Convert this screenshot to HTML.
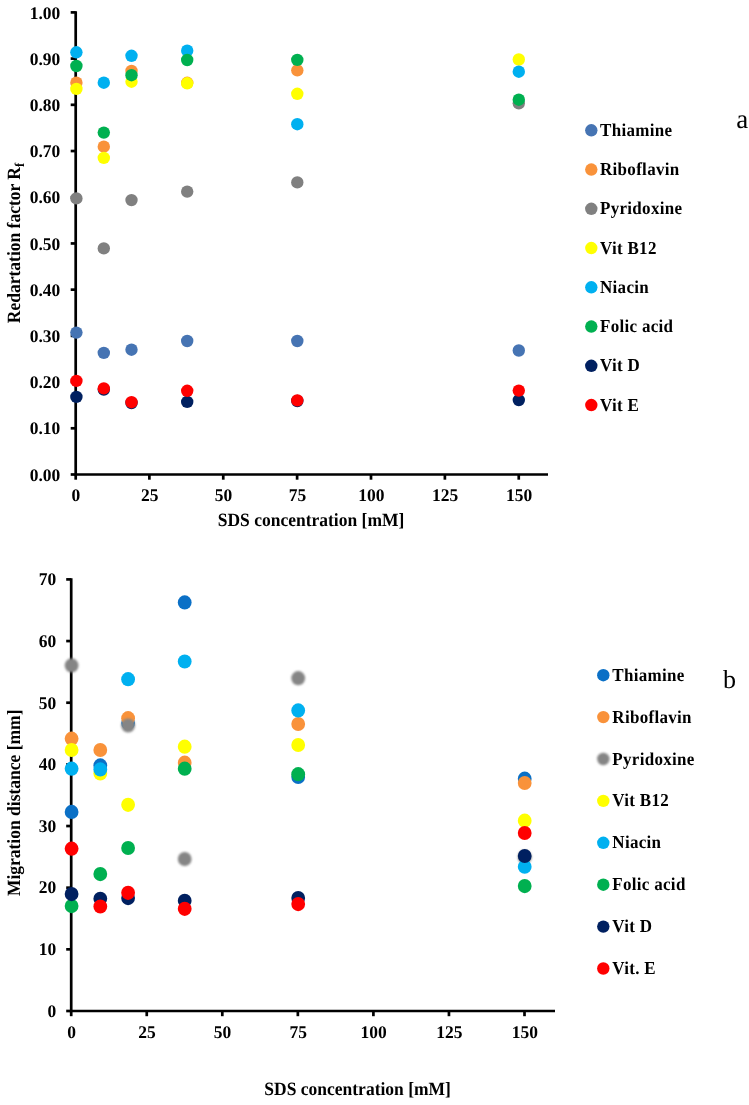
<!DOCTYPE html><html><head><meta charset="utf-8"><style>html,body{margin:0;padding:0;background:#fff;}svg{display:block;will-change:transform;}text{font-family:"Liberation Serif", serif;font-weight:bold;fill:#000;text-rendering:geometricPrecision;}</style></head><body>
<svg width="749" height="1105" viewBox="0 0 749 1105">
<defs><filter id="soft" x="-30%" y="-30%" width="160%" height="160%"><feGaussianBlur stdDeviation="0.8"/></filter></defs>
<rect width="749" height="1105" fill="#fff"/>
<g stroke="#000" stroke-width="2.7" fill="none">
<path d="M75.7 11.2 V474.5 H548"/>
<path d="M70.7 474.5 H75.7"/>
<path d="M70.7 428.29 H75.7"/>
<path d="M70.7 382.08 H75.7"/>
<path d="M70.7 335.87 H75.7"/>
<path d="M70.7 289.66 H75.7"/>
<path d="M70.7 243.45 H75.7"/>
<path d="M70.7 197.24 H75.7"/>
<path d="M70.7 151.03 H75.7"/>
<path d="M70.7 104.82 H75.7"/>
<path d="M70.7 58.61 H75.7"/>
<path d="M70.7 12.4 H75.7"/>
<path d="M75.7 474.5 V479.7"/>
<path d="M149.38 474.5 V479.7"/>
<path d="M223.25 474.5 V479.7"/>
<path d="M297.12 474.5 V479.7"/>
<path d="M371 474.5 V479.7"/>
<path d="M444.88 474.5 V479.7"/>
<path d="M518.75 474.5 V479.7"/>
</g>
<text transform="translate(60.3,480.7) scale(1,1.02)" font-size="17.5" text-anchor="end">0.00</text>
<text transform="translate(60.3,434.49) scale(1,1.02)" font-size="17.5" text-anchor="end">0.10</text>
<text transform="translate(60.3,388.28) scale(1,1.02)" font-size="17.5" text-anchor="end">0.20</text>
<text transform="translate(60.3,342.07) scale(1,1.02)" font-size="17.5" text-anchor="end">0.30</text>
<text transform="translate(60.3,295.86) scale(1,1.02)" font-size="17.5" text-anchor="end">0.40</text>
<text transform="translate(60.3,249.65) scale(1,1.02)" font-size="17.5" text-anchor="end">0.50</text>
<text transform="translate(60.3,203.44) scale(1,1.02)" font-size="17.5" text-anchor="end">0.60</text>
<text transform="translate(60.3,157.23) scale(1,1.02)" font-size="17.5" text-anchor="end">0.70</text>
<text transform="translate(60.3,111.02) scale(1,1.02)" font-size="17.5" text-anchor="end">0.80</text>
<text transform="translate(60.3,64.81) scale(1,1.02)" font-size="17.5" text-anchor="end">0.90</text>
<text transform="translate(60.3,18.6) scale(1,1.02)" font-size="17.5" text-anchor="end">1.00</text>
<text transform="translate(75.8,501) scale(1,1.02)" font-size="17.5" text-anchor="middle">0</text>
<text transform="translate(149.68,501) scale(1,1.02)" font-size="17.5" text-anchor="middle">25</text>
<text transform="translate(223.55,501) scale(1,1.02)" font-size="17.5" text-anchor="middle">50</text>
<text transform="translate(297.43,501) scale(1,1.02)" font-size="17.5" text-anchor="middle">75</text>
<text transform="translate(371.3,501) scale(1,1.02)" font-size="17.5" text-anchor="middle">100</text>
<text transform="translate(445.18,501) scale(1,1.02)" font-size="17.5" text-anchor="middle">125</text>
<text transform="translate(519.05,501) scale(1,1.02)" font-size="17.5" text-anchor="middle">150</text>
<text transform="translate(311,526.1) scale(1,1.07)" font-size="17.5" text-anchor="middle">SDS concentration [mM]</text>
<text transform="translate(20.4,243) rotate(-90) scale(1,1.07)" font-size="17.5" text-anchor="middle">Redartation factor R<tspan font-size="12.5" dy="3.2">f</tspan></text>
<g stroke="#000" stroke-width="2.7" fill="none">
<path d="M71.2 578.2 V1011 H555"/>
<path d="M66.2 1011 H71.2"/>
<path d="M66.2 949.34 H71.2"/>
<path d="M66.2 887.69 H71.2"/>
<path d="M66.2 826.03 H71.2"/>
<path d="M66.2 764.37 H71.2"/>
<path d="M66.2 702.71 H71.2"/>
<path d="M66.2 641.06 H71.2"/>
<path d="M66.2 579.4 H71.2"/>
<path d="M71.2 1011 V1016.2"/>
<path d="M146.75 1011 V1016.2"/>
<path d="M222.3 1011 V1016.2"/>
<path d="M297.85 1011 V1016.2"/>
<path d="M373.4 1011 V1016.2"/>
<path d="M448.95 1011 V1016.2"/>
<path d="M524.5 1011 V1016.2"/>
</g>
<text transform="translate(56.3,1016.8) scale(1,1.02)" font-size="17.5" text-anchor="end">0</text>
<text transform="translate(56.3,955.14) scale(1,1.02)" font-size="17.5" text-anchor="end">10</text>
<text transform="translate(56.3,893.49) scale(1,1.02)" font-size="17.5" text-anchor="end">20</text>
<text transform="translate(56.3,831.83) scale(1,1.02)" font-size="17.5" text-anchor="end">30</text>
<text transform="translate(56.3,770.17) scale(1,1.02)" font-size="17.5" text-anchor="end">40</text>
<text transform="translate(56.3,708.51) scale(1,1.02)" font-size="17.5" text-anchor="end">50</text>
<text transform="translate(56.3,646.86) scale(1,1.02)" font-size="17.5" text-anchor="end">60</text>
<text transform="translate(56.3,585.2) scale(1,1.02)" font-size="17.5" text-anchor="end">70</text>
<text transform="translate(71.5,1037.5) scale(1,1.02)" font-size="17.5" text-anchor="middle">0</text>
<text transform="translate(147.05,1037.5) scale(1,1.02)" font-size="17.5" text-anchor="middle">25</text>
<text transform="translate(222.6,1037.5) scale(1,1.02)" font-size="17.5" text-anchor="middle">50</text>
<text transform="translate(298.15,1037.5) scale(1,1.02)" font-size="17.5" text-anchor="middle">75</text>
<text transform="translate(373.7,1037.5) scale(1,1.02)" font-size="17.5" text-anchor="middle">100</text>
<text transform="translate(449.25,1037.5) scale(1,1.02)" font-size="17.5" text-anchor="middle">125</text>
<text transform="translate(524.8,1037.5) scale(1,1.02)" font-size="17.5" text-anchor="middle">150</text>
<text transform="translate(357.6,1095.2) scale(1,1.07)" font-size="17.5" text-anchor="middle">SDS concentration [mM]</text>
<text transform="translate(19.9,802.8) rotate(-90) scale(1,1.07)" font-size="17.5" text-anchor="middle">Migration distance [mm]</text>
<circle cx="76.4" cy="332.6" r="6.2" fill="#4674B3"/>
<circle cx="103.8" cy="352.9" r="6.2" fill="#4674B3"/>
<circle cx="131.5" cy="349.7" r="6.2" fill="#4674B3"/>
<circle cx="187.2" cy="341" r="6.2" fill="#4674B3"/>
<circle cx="297.3" cy="341" r="6.2" fill="#4674B3"/>
<circle cx="518.8" cy="350.5" r="6.2" fill="#4674B3"/>
<circle cx="76.4" cy="82.7" r="6.2" fill="#F9923A"/>
<circle cx="103.8" cy="146.7" r="6.2" fill="#F9923A"/>
<circle cx="131.5" cy="71" r="6.2" fill="#F9923A"/>
<circle cx="187.2" cy="82.8" r="6.2" fill="#F9923A"/>
<circle cx="297.3" cy="70.3" r="6.2" fill="#F9923A"/>
<circle cx="76.4" cy="198.4" r="6.2" fill="#808080"/>
<circle cx="103.8" cy="248.4" r="6.2" fill="#808080"/>
<circle cx="131.5" cy="200.1" r="6.2" fill="#808080"/>
<circle cx="187.2" cy="191.6" r="6.2" fill="#808080"/>
<circle cx="297.3" cy="182.4" r="6.2" fill="#808080"/>
<circle cx="518.8" cy="103.3" r="6.2" fill="#808080"/>
<circle cx="76.4" cy="88.9" r="6.2" fill="#FFFF00"/>
<circle cx="103.8" cy="157.9" r="6.2" fill="#FFFF00"/>
<circle cx="131.5" cy="81.7" r="6.2" fill="#FFFF00"/>
<circle cx="187.2" cy="83.3" r="6.2" fill="#FFFF00"/>
<circle cx="297.3" cy="93.8" r="6.2" fill="#FFFF00"/>
<circle cx="518.8" cy="59.5" r="6.2" fill="#FFFF00"/>
<circle cx="76.4" cy="52.3" r="6.2" fill="#00B0F0"/>
<circle cx="103.8" cy="82.7" r="6.2" fill="#00B0F0"/>
<circle cx="131.5" cy="55.8" r="6.2" fill="#00B0F0"/>
<circle cx="187.2" cy="50.7" r="6.2" fill="#00B0F0"/>
<circle cx="297.3" cy="124.2" r="6.2" fill="#00B0F0"/>
<circle cx="518.8" cy="71.7" r="6.2" fill="#00B0F0"/>
<circle cx="76.4" cy="66" r="6.2" fill="#00B050"/>
<circle cx="103.8" cy="132.6" r="6.2" fill="#00B050"/>
<circle cx="131.5" cy="75.2" r="6.2" fill="#00B050"/>
<circle cx="187.2" cy="60" r="6.2" fill="#00B050"/>
<circle cx="297.3" cy="59.9" r="6.2" fill="#00B050"/>
<circle cx="518.8" cy="99.7" r="6.2" fill="#00B050"/>
<circle cx="76.4" cy="396.9" r="6.2" fill="#002060"/>
<circle cx="103.8" cy="389.5" r="6.2" fill="#002060"/>
<circle cx="131.5" cy="403" r="6.2" fill="#002060"/>
<circle cx="187.2" cy="401.9" r="6.2" fill="#002060"/>
<circle cx="297.3" cy="401" r="6.2" fill="#002060"/>
<circle cx="518.8" cy="400.1" r="6.2" fill="#002060"/>
<circle cx="76.4" cy="380.9" r="6.2" fill="#FF0000"/>
<circle cx="103.8" cy="388.4" r="6.2" fill="#FF0000"/>
<circle cx="131.5" cy="402.2" r="6.2" fill="#FF0000"/>
<circle cx="187.2" cy="390.8" r="6.2" fill="#FF0000"/>
<circle cx="297.3" cy="400.4" r="6.2" fill="#FF0000"/>
<circle cx="518.8" cy="390.6" r="6.2" fill="#FF0000"/>
<ellipse cx="71.6" cy="811.9" rx="6.9" ry="7.1" fill="#0B70C6"/>
<ellipse cx="100.3" cy="765.4" rx="6.9" ry="7.1" fill="#0B70C6"/>
<ellipse cx="128.1" cy="723" rx="6.9" ry="7.1" fill="#0B70C6"/>
<ellipse cx="184.7" cy="602.4" rx="6.9" ry="7.1" fill="#0B70C6"/>
<ellipse cx="298.2" cy="776.9" rx="6.9" ry="7.1" fill="#0B70C6"/>
<ellipse cx="524.7" cy="778.7" rx="6.9" ry="7.1" fill="#0B70C6"/>
<ellipse cx="71.6" cy="738.7" rx="6.9" ry="7.1" fill="#F9923A"/>
<ellipse cx="100.3" cy="750" rx="6.9" ry="7.1" fill="#F9923A"/>
<ellipse cx="128.1" cy="718.2" rx="6.9" ry="7.1" fill="#F9923A"/>
<ellipse cx="184.7" cy="762.7" rx="6.9" ry="7.1" fill="#F9923A"/>
<ellipse cx="298.2" cy="724" rx="6.9" ry="7.1" fill="#F9923A"/>
<ellipse cx="524.7" cy="783" rx="6.9" ry="7.1" fill="#F9923A"/>
<ellipse cx="71.6" cy="665.4" rx="6.9" ry="7.1" fill="#858585" filter="url(#soft)"/>
<ellipse cx="128.1" cy="725.5" rx="6.9" ry="7.1" fill="#858585" filter="url(#soft)"/>
<ellipse cx="184.7" cy="859" rx="6.9" ry="7.1" fill="#858585" filter="url(#soft)"/>
<ellipse cx="298.2" cy="678.2" rx="6.9" ry="7.1" fill="#858585" filter="url(#soft)"/>
<ellipse cx="524.7" cy="857" rx="6.9" ry="7.1" fill="#858585" filter="url(#soft)"/>
<ellipse cx="71.6" cy="750" rx="6.9" ry="7.1" fill="#FFFF00"/>
<ellipse cx="100.3" cy="773.4" rx="6.9" ry="7.1" fill="#FFFF00"/>
<ellipse cx="128.1" cy="804.8" rx="6.9" ry="7.1" fill="#FFFF00"/>
<ellipse cx="184.7" cy="746.7" rx="6.9" ry="7.1" fill="#FFFF00"/>
<ellipse cx="298.2" cy="745" rx="6.9" ry="7.1" fill="#FFFF00"/>
<ellipse cx="524.7" cy="820.7" rx="6.9" ry="7.1" fill="#FFFF00"/>
<ellipse cx="71.6" cy="768.7" rx="6.9" ry="7.1" fill="#00B0F0"/>
<ellipse cx="100.3" cy="769.4" rx="6.9" ry="7.1" fill="#00B0F0"/>
<ellipse cx="128.1" cy="679.2" rx="6.9" ry="7.1" fill="#00B0F0"/>
<ellipse cx="184.7" cy="661.5" rx="6.9" ry="7.1" fill="#00B0F0"/>
<ellipse cx="298.2" cy="710.4" rx="6.9" ry="7.1" fill="#00B0F0"/>
<ellipse cx="524.7" cy="866.7" rx="6.9" ry="7.1" fill="#00B0F0"/>
<ellipse cx="71.6" cy="906.1" rx="6.9" ry="7.1" fill="#00B050"/>
<ellipse cx="100.3" cy="874.1" rx="6.9" ry="7.1" fill="#00B050"/>
<ellipse cx="128.1" cy="848" rx="6.9" ry="7.1" fill="#00B050"/>
<ellipse cx="184.7" cy="768.7" rx="6.9" ry="7.1" fill="#00B050"/>
<ellipse cx="298.2" cy="774.2" rx="6.9" ry="7.1" fill="#00B050"/>
<ellipse cx="524.7" cy="886.1" rx="6.9" ry="7.1" fill="#00B050"/>
<ellipse cx="71.6" cy="894.1" rx="6.9" ry="7.1" fill="#002060"/>
<ellipse cx="100.3" cy="898.8" rx="6.9" ry="7.1" fill="#002060"/>
<ellipse cx="128.1" cy="898.1" rx="6.9" ry="7.1" fill="#002060"/>
<ellipse cx="184.7" cy="900.8" rx="6.9" ry="7.1" fill="#002060"/>
<ellipse cx="298.2" cy="898.1" rx="6.9" ry="7.1" fill="#002060"/>
<ellipse cx="524.7" cy="856" rx="6.9" ry="7.1" fill="#002060"/>
<ellipse cx="71.6" cy="848.7" rx="6.9" ry="7.1" fill="#FF0000"/>
<ellipse cx="100.3" cy="906.5" rx="6.9" ry="7.1" fill="#FF0000"/>
<ellipse cx="128.1" cy="892.8" rx="6.9" ry="7.1" fill="#FF0000"/>
<ellipse cx="184.7" cy="908.8" rx="6.9" ry="7.1" fill="#FF0000"/>
<ellipse cx="298.2" cy="904.1" rx="6.9" ry="7.1" fill="#FF0000"/>
<ellipse cx="524.7" cy="833" rx="6.9" ry="7.1" fill="#FF0000"/>
<circle cx="591.3" cy="130.3" r="6.2" fill="#4674B3"/>
<text transform="translate(600,135.8) scale(1,1.07)" font-size="17" text-anchor="start" style="letter-spacing:0.3px;">Thiamine</text>
<circle cx="591.3" cy="169.55" r="6.2" fill="#F9923A"/>
<text transform="translate(600,175.05) scale(1,1.07)" font-size="17" text-anchor="start" style="letter-spacing:0.3px;">Riboflavin</text>
<circle cx="591.3" cy="208.8" r="6.2" fill="#808080"/>
<text transform="translate(600,214.3) scale(1,1.07)" font-size="17" text-anchor="start" style="letter-spacing:0.3px;">Pyridoxine</text>
<circle cx="591.3" cy="248.05" r="6.2" fill="#FFFF00"/>
<text transform="translate(600,253.55) scale(1,1.07)" font-size="17" text-anchor="start" style="letter-spacing:0.3px;">Vit B12</text>
<circle cx="591.3" cy="287.3" r="6.2" fill="#00B0F0"/>
<text transform="translate(600,292.8) scale(1,1.07)" font-size="17" text-anchor="start" style="letter-spacing:0.3px;">Niacin</text>
<circle cx="591.3" cy="326.55" r="6.2" fill="#00B050"/>
<text transform="translate(600,332.05) scale(1,1.07)" font-size="17" text-anchor="start" style="letter-spacing:0.3px;">Folic acid</text>
<circle cx="591.3" cy="365.8" r="6.2" fill="#002060"/>
<text transform="translate(600,371.3) scale(1,1.07)" font-size="17" text-anchor="start" style="letter-spacing:0.3px;">Vit D</text>
<circle cx="591.3" cy="405.05" r="6.2" fill="#FF0000"/>
<text transform="translate(600,410.55) scale(1,1.07)" font-size="17" text-anchor="start" style="letter-spacing:0.3px;">Vit E</text>
<circle cx="603.3" cy="675.2" r="6.2" fill="#0B70C6"/>
<text transform="translate(612.3,680.7) scale(1,1.07)" font-size="17" text-anchor="start" style="letter-spacing:0.3px;">Thiamine</text>
<circle cx="603.3" cy="717.1" r="6.2" fill="#F9923A"/>
<text transform="translate(612.3,722.6) scale(1,1.07)" font-size="17" text-anchor="start" style="letter-spacing:0.3px;">Riboflavin</text>
<circle cx="603.3" cy="759" r="6.2" fill="#858585" filter="url(#soft)"/>
<text transform="translate(612.3,764.5) scale(1,1.07)" font-size="17" text-anchor="start" style="letter-spacing:0.3px;">Pyridoxine</text>
<circle cx="603.3" cy="800.9" r="6.2" fill="#FFFF00"/>
<text transform="translate(612.3,806.4) scale(1,1.07)" font-size="17" text-anchor="start" style="letter-spacing:0.3px;">Vit B12</text>
<circle cx="603.3" cy="842.8" r="6.2" fill="#00B0F0"/>
<text transform="translate(612.3,848.3) scale(1,1.07)" font-size="17" text-anchor="start" style="letter-spacing:0.3px;">Niacin</text>
<circle cx="603.3" cy="884.7" r="6.2" fill="#00B050"/>
<text transform="translate(612.3,890.2) scale(1,1.07)" font-size="17" text-anchor="start" style="letter-spacing:0.3px;">Folic acid</text>
<circle cx="603.3" cy="926.6" r="6.2" fill="#002060"/>
<text transform="translate(612.3,932.1) scale(1,1.07)" font-size="17" text-anchor="start" style="letter-spacing:0.3px;">Vit D</text>
<circle cx="603.3" cy="968.5" r="6.2" fill="#FF0000"/>
<text transform="translate(612.3,974) scale(1,1.07)" font-size="17" text-anchor="start" style="letter-spacing:0.3px;">Vit. E</text>
<text transform="translate(736.3,128) scale(1,1.0)" font-size="27" text-anchor="start" style="font-weight:normal;">a</text>
<text transform="translate(723,687.6) scale(1,1.0)" font-size="26" text-anchor="start" style="font-weight:normal;">b</text>
</svg></body></html>
